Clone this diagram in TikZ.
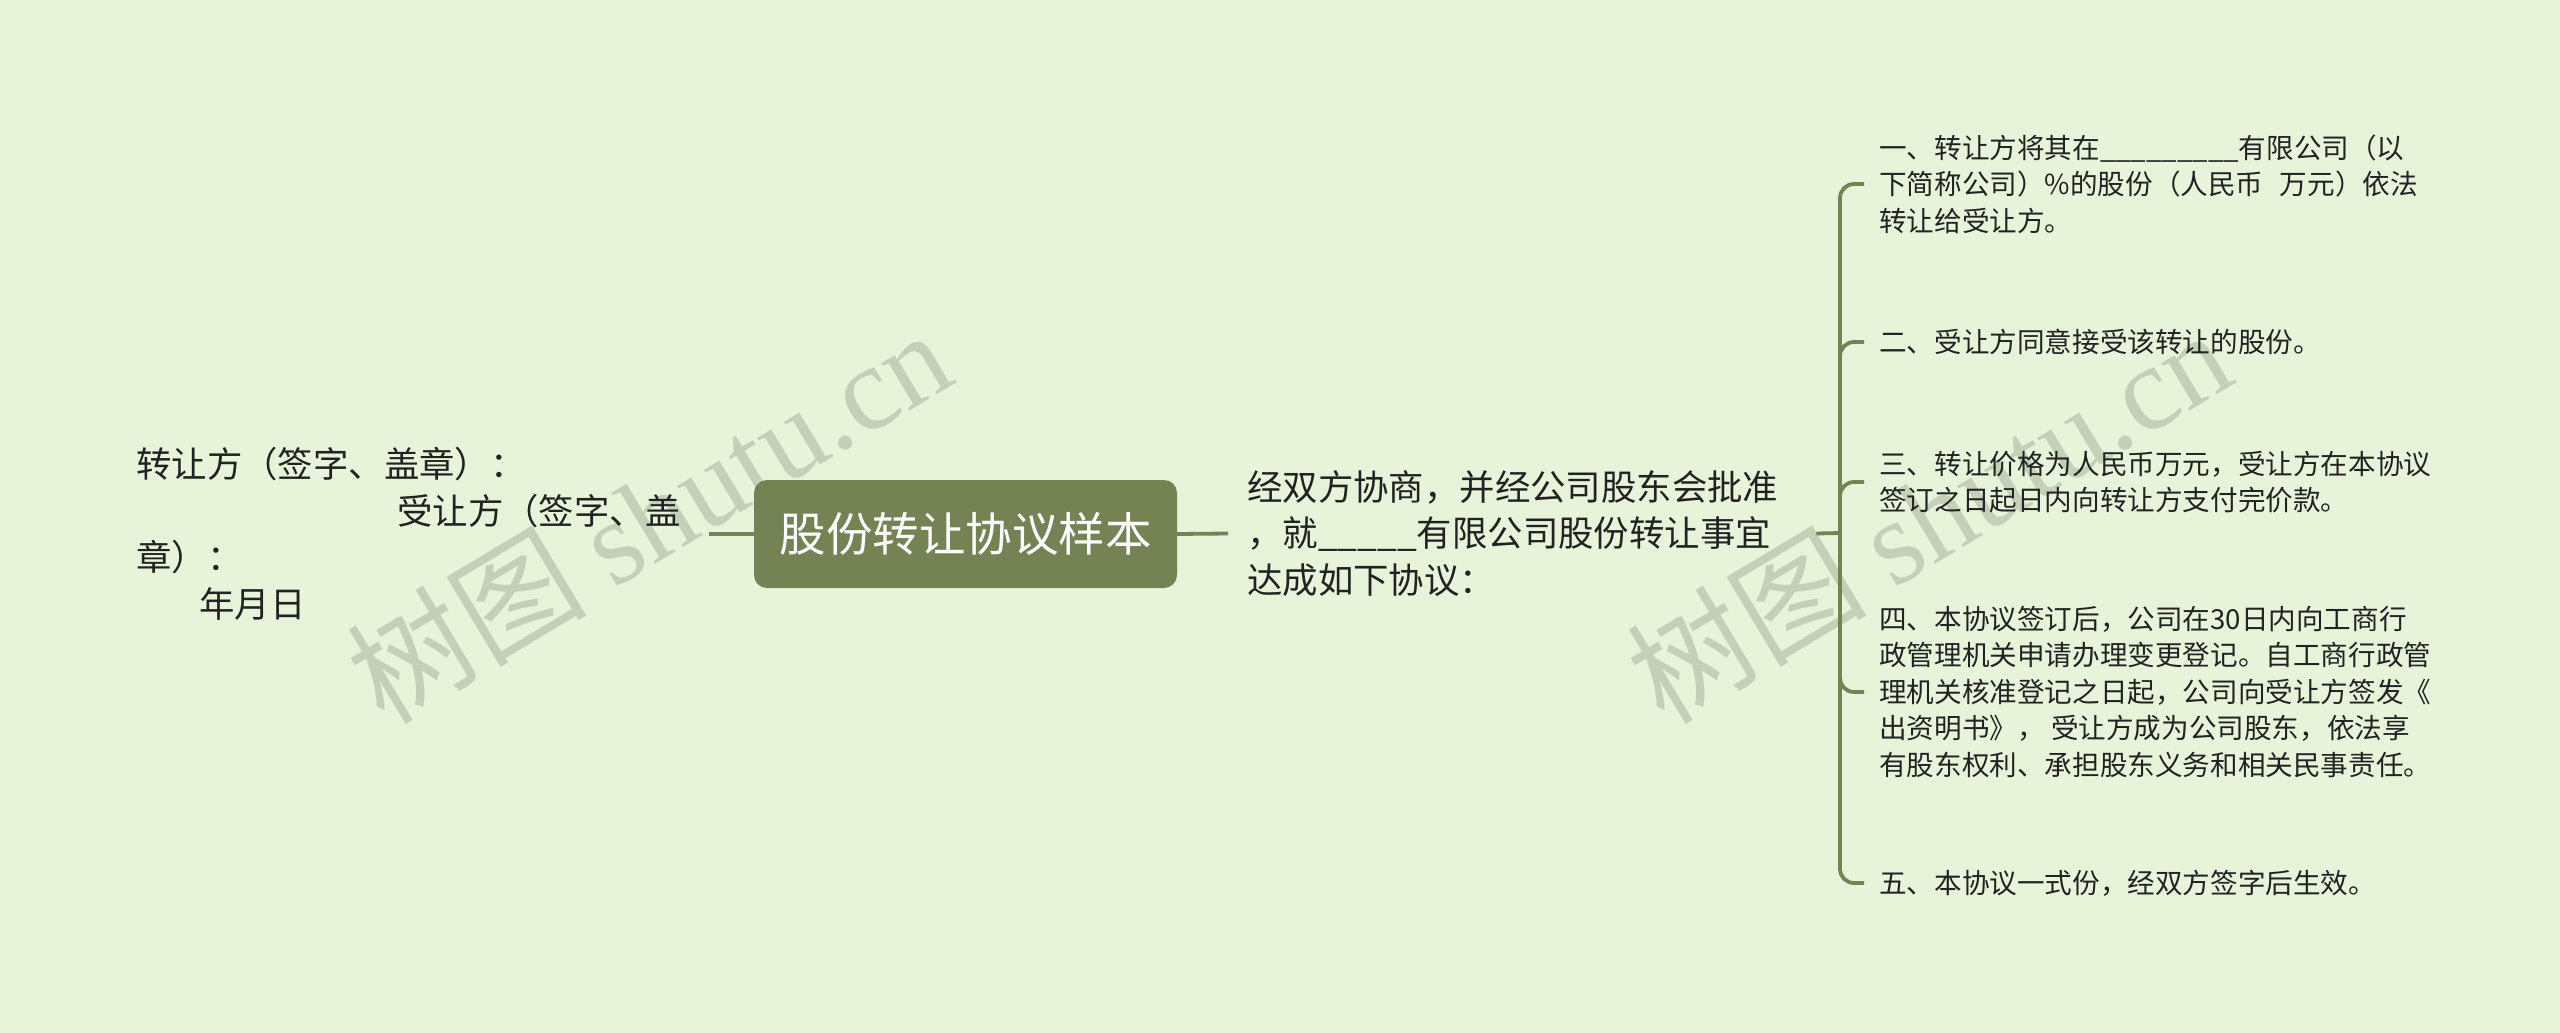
\documentclass[tikz,border=0pt]{standalone}
\usepackage{fontspec}
\setmainfont{Liberation Sans}
\newfontfamily\cjk{Noto Sans CJK SC}
\newfontfamily\wmserif{Liberation Serif}
\usetikzlibrary{calc}
\definecolor{bg}{RGB}{232,244,218}
\definecolor{olive}{RGB}{116,130,84}
\definecolor{txt}{RGB}{34,34,34}
\definecolor{wm}{RGB}{196,209,184}
\tikzset{
  conn/.style={draw=olive, line width=3.8pt},
  rootbox/.style={fill=olive, rounded corners=13pt, minimum width=423pt, minimum height=108pt,
    text=white, inner sep=0pt, font=\cjk\fontsize{46.5}{52}\selectfont},
  bigtext/.style={anchor=west, inner sep=0pt, align=left, text=txt, font=\cjk\fontsize{35.4}{46.5}\selectfont},
  itemtext/.style={anchor=west, inner sep=0pt, align=left, text=txt, font=\cjk\fontsize{27.6}{36.5}\selectfont},
  watermark/.style={rotate=31, text=wm, inner sep=0pt, font=\fontsize{120}{130}\selectfont}
}
\begin{document}
\begin{tikzpicture}[x=1pt,y=-1pt]
\fill[bg] (0,0) rectangle (2560,1033);
\useasboundingbox (0,0) rectangle (2560,1033);
% watermarks
\node[watermark] (wm1) at (648,515) {\cjk 树图 \wmserif shutu.cn};
\node[watermark] (wm2) at (1928,515) {\cjk 树图 \wmserif shutu.cn};
% nodes
\node[rootbox] (root) at (965.5,534) {股份转让协议样本};
\node[bigtext] (left) at (136,534) {转让方（签字、盖章）：\\\hspace*{261pt}受让方（签字、盖\\章）：\\\hspace*{63pt}年月日};
\node[bigtext] (mid) at (1247,533.5) {经双方协商，并经公司股东会批准\\，就\_\_\_\_\_有限公司股份转让事宜\\达成如下协议：};
\node[itemtext] (i1) at (1879,184) {一、转让方将其在\_\_\_\_\_\_\_\_\_有限公司（以\\下简称公司）\%的股份（人民币\hspace{0.6em}万元）依法\\转让给受让方。};
\node[itemtext] (i2) at (1879,342) {二、受让方同意接受该转让的股份。};
\node[itemtext] (i3) at (1879,482) {三、转让价格为人民币万元，受让方在本协议\\签订之日起日内向转让方支付完价款。};
\node[itemtext] (i4) at (1879,692) {四、本协议签订后，公司在30日内向工商行\\政管理机关申请办理变更登记。自工商行政管\\理机关核准登记之日起，公司向受让方签发《\\出资明书》， 受让方成为公司股东，依法享\\有股东权利、承担股东义务和相关民事责任。};
\node[itemtext] (i5) at (1879,883) {五、本协议一式份，经双方签字后生效。};
\coordinate (j) at (1840,533);
% connectors
\draw[conn] ([xshift=28pt]left.east) -- (root.west);
\draw[conn] (root.east) -- ([xshift=-19pt]mid.west);
\draw[conn] ([xshift=38pt]mid.east) -- (j);
\draw[conn, rounded corners=14pt] (j) -- (j |- i1.west) -- ([xshift=-15pt]i1.west);
\draw[conn, rounded corners=14pt] (j) -- (j |- i5.west) -- ([xshift=-15pt]i5.west);
\draw[conn, rounded corners=14pt] ($(j |- i2.west)+(0,20)$) -- (j |- i2.west) -- ([xshift=-15pt]i2.west);
\draw[conn, rounded corners=14pt] ($(j |- i3.west)+(0,20)$) -- (j |- i3.west) -- ([xshift=-15pt]i3.west);
\draw[conn, rounded corners=14pt] ($(j |- i4.west)+(0,-20)$) -- (j |- i4.west) -- ([xshift=-15pt]i4.west);
\end{tikzpicture}
\end{document}
